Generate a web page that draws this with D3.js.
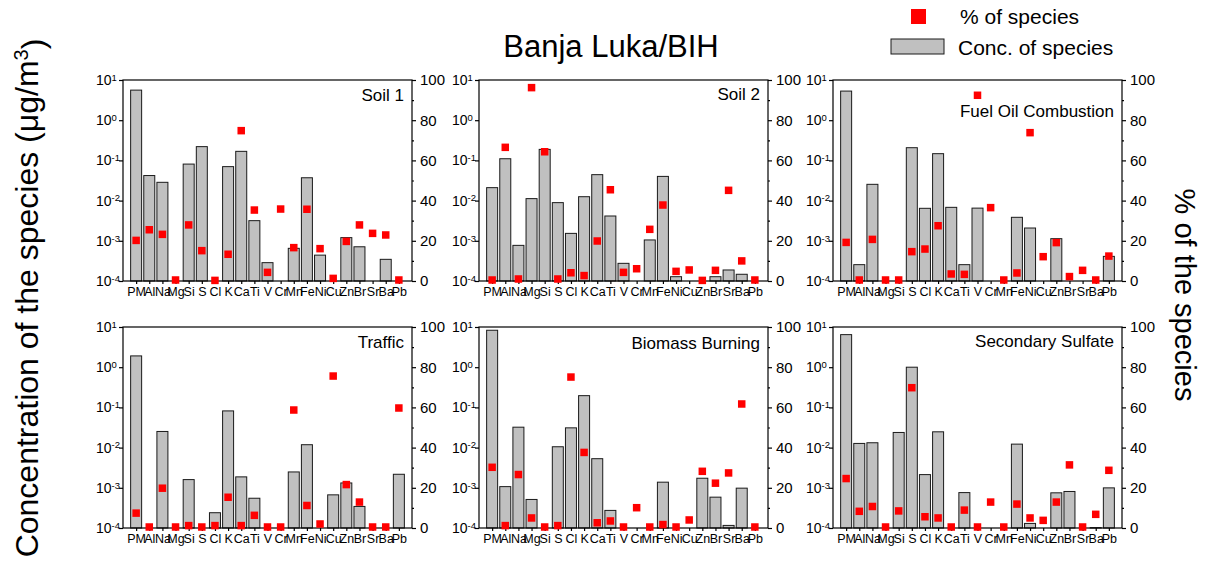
<!DOCTYPE html>
<html>
<head>
<meta charset="utf-8">
<script src="https://cdn.jsdelivr.net/npm/d3@7"></script>
<style>
  body { margin: 0; background: #fff; }
  svg text { font-family: "Liberation Sans", Arial, Helvetica, sans-serif; fill: #000; }
</style>
</head>
<body>
<svg id="chart" width="1207" height="571"></svg>
<script>
// ---- data -------------------------------------------------------------
const species = ["PM","Al","Na","Mg","Si","S","Cl","K","Ca","Ti","V","Cr","Mn","Fe","Ni","Cu","Zn","Br","Sr","Ba","Pb"];
const sources = ["Soil 1","Soil 2","Fuel Oil Combustion","Traffic","Biomass Burning","Secondary Sulfate"];

// concentration of each species in the factor profile (µg/m³); 0 = not drawn
const concSoil1   = [5.6, 0.042, 0.0285, 0, 0.081, 0.22, 0, 0.070, 0.168, 0.00317, 0.000286, 0, 0.00065, 0.037, 0.00044, 0, 0.0012, 0.00071, 0, 0.000346, 0];
const concSoil2   = [0.021, 0.110, 0.00077, 0.0112, 0.188, 0.0089, 0.00153, 0.0125, 0.0442, 0.00414, 0.000275, 0, 0.00105, 0.040, 0.000128, 0, 0, 0.000128, 0.000188, 0.000147, 0];
const concFuelOil = [5.3, 0.000255, 0.0254, 0, 0, 0.207, 0.00643, 0.147, 0.0068, 0.000255, 0.0065, 0, 0, 0.00384, 0.00208, 0, 0.00113, 0, 0, 0, 0.00041];
const concTraffic = [1.91, 0, 0.0252, 0, 0.0016, 0, 0.00024, 0.0818, 0.00187, 0.00055, 0, 0, 0.00248, 0.0118, 0, 0.000668, 0.00132, 0.000344, 0, 0, 0.00217];
const concBiomass = [8.3, 0.00107, 0.0322, 0.000513, 0, 0.0105, 0.031, 0.196, 0.0053, 0.000274, 0, 0, 0, 0.00138, 0, 0, 0.00173, 0.000585, 0.000116, 0.00098, 0];
const concSulfate = [6.46, 0.0127, 0.0132, 0, 0.0238, 1.0, 0.00213, 0.0247, 0, 0.00076, 0, 0, 0, 0.0122, 0.00013, 0, 0.00075, 0.00081, 0, 0.000102, 0.000996];

// share of each species explained by the factor (%)
const pctSoil1   = [20.2, 25.5, 23.2, 0.5, 27.9, 15.1, 0.3, 13.3, 74.8, 35.3, 4.3, 35.8, 16.6, 35.7, 16.1, 1.3, 19.7, 27.9, 23.7, 22.9, 0.5];
const pctSoil2   = [0.5, 66.5, 1.0, 96.2, 64.3, 1.0, 4.1, 2.7, 19.9, 45.4, 4.3, 6.1, 25.7, 37.8, 4.8, 5.5, 0.3, 5.3, 45.1, 10.0, 0.5];
const pctFuelOil = [19.2, 0.5, 20.7, 0.5, 0.5, 14.6, 15.9, 27.5, 3.5, 3.3, 92.4, 36.5, 0.5, 4.0, 73.8, 12.1, 19.1, 2.2, 5.3, 0.5, 12.4];
const pctTraffic = [7.4, 0.5, 19.8, 0.5, 1.2, 0.5, 1.2, 15.3, 1.2, 6.3, 0.5, 0.5, 58.7, 11.2, 2.0, 75.6, 21.6, 12.9, 0.5, 0.5, 59.7];
const pctBiomass = [30.2, 1.2, 26.6, 5.0, 0.5, 1.2, 75.1, 37.6, 2.6, 3.5, 0.5, 10.1, 0.5, 1.7, 0.5, 4.0, 28.2, 22.3, 27.4, 61.7, 0.5];
const pctSulfate = [24.6, 8.3, 10.7, 0.5, 8.5, 69.8, 5.6, 5.0, 0.5, 8.9, 0.5, 12.9, 0.5, 11.9, 5.0, 3.8, 12.9, 31.4, 0.5, 6.8, 28.7];

const concTicks = [1e-4, 1e-3, 1e-2, 1e-1, 1e0, 1e1];
const pctTicks = [0, 20, 40, 60, 80, 100];
const pctMinorTicks = [10, 30, 50, 70, 90];

const concSeries = [concSoil1, concSoil2, concFuelOil, concTraffic, concBiomass, concSulfate];
const pctSeries  = [pctSoil1, pctSoil2, pctFuelOil, pctTraffic, pctBiomass, pctSulfate];

// ---- layout -----------------------------------------------------------
const panelW = 289, panelH = 201;
const colX = [123, 479, 833];
const rowY = [80, 327];
const nameDrop = [21, 20, 37, 21, 22, 20];   // baseline of the factor name below the frame top
const barFill = "#c0c0c0", markColor = "#ff0000";
const markSize = 7.5, barWidth = 11;

const svg = d3.select("#chart");

const x = d3.scalePoint().domain(species).range([0, panelW]).padding(1);
const yConc = d3.scaleLog().domain([1e-4, 1e1]).range([panelH, 0]);
const yPct = d3.scaleLinear().domain([0, 100]).range([panelH, 0]);

sources.forEach((name, i) => {
  const g = svg.append("g")
    .attr("transform", `translate(${colX[i % 3]},${rowY[Math.floor(i / 3)]})`);
  const conc = concSeries[i], pct = pctSeries[i];

  // bars (log scale, only positive values above the axis floor)
  g.append("g").selectAll("rect")
    .data(species.map((s, k) => ({ s, v: conc[k] })).filter(d => d.v > 1e-4))
    .join("rect")
    .attr("x", d => x(d.s) - barWidth / 2)
    .attr("y", d => yConc(d.v))
    .attr("width", barWidth)
    .attr("height", d => panelH - yConc(d.v))
    .attr("fill", barFill)
    .attr("stroke", "#1a1a1a")
    .attr("stroke-width", 1);

  // frame
  g.append("rect")
    .attr("width", panelW).attr("height", panelH)
    .attr("fill", "none").attr("stroke", "#000").attr("stroke-width", 1.2);

  // left log axis
  const left = g.append("g")
    .call(d3.axisLeft(yConc).tickValues(concTicks).tickSize(4).tickFormat(""));
  left.select(".domain").remove();
  left.selectAll("line").attr("stroke-width", 1.2);
  const lbl = g.append("g").selectAll("text").data(concTicks).join("text")
    .attr("x", -27).attr("y", d => yConc(d)).attr("dy", "0.36em")
    .style("font-size", "14px");
  lbl.append("tspan").text("10");
  lbl.append("tspan").attr("dy", "-0.45em").style("font-size", "9.5px")
    .text(d => String(Math.round(Math.log10(d))));

  // right % axis
  const right = g.append("g").attr("transform", `translate(${panelW},0)`)
    .call(d3.axisRight(yPct).tickValues(pctTicks).tickSize(4).tickPadding(4));
  right.select(".domain").remove();
  right.selectAll("line").attr("stroke-width", 1.2);
  right.selectAll("text").style("font-size", "15px");
  g.append("g").attr("transform", `translate(${panelW},0)`)
    .call(d3.axisRight(yPct).tickValues(pctMinorTicks).tickSize(2).tickFormat(""))
    .call(a => { a.select(".domain").remove(); a.selectAll("line").attr("stroke-width", 1.2); });

  // bottom category axis
  const bottom = g.append("g").attr("transform", `translate(0,${panelH})`)
    .call(d3.axisBottom(x).tickSize(3).tickPadding(3));
  bottom.select(".domain").remove();
  bottom.selectAll("line").attr("stroke-width", 1.2);
  bottom.selectAll("text").style("font-size", "12.5px");

  // % markers
  g.append("g").selectAll("rect")
    .data(species.map((s, k) => ({ s, v: pct[k] })))
    .join("rect")
    .attr("x", d => x(d.s) - markSize / 2)
    .attr("y", d => yPct(d.v) - markSize / 2)
    .attr("width", markSize).attr("height", markSize)
    .attr("fill", markColor);

  // factor name
  g.append("text")
    .attr("x", panelW - 8).attr("y", nameDrop[i])
    .attr("text-anchor", "end")
    .style("font-size", "17px")
    .text(name);
});

// title
svg.append("text")
  .attr("x", 611).attr("y", 57)
  .attr("text-anchor", "middle")
  .style("font-size", "31px")
  .text("Banja Luka/BIH");

// left axis title
const yTitle = svg.append("text")
  .attr("transform", "translate(38,298) rotate(-90)")
  .attr("text-anchor", "middle")
  .style("font-size", "32px");
yTitle.append("tspan").text("Concentration of the species (\u03bcg/m");
yTitle.append("tspan").attr("dy", "-0.5em").style("font-size", "20px").text("3");
yTitle.append("tspan").attr("dy", "0.5em").text(")");

// right axis title
svg.append("text")
  .attr("transform", "translate(1175,295) rotate(90)")
  .attr("text-anchor", "middle")
  .style("font-size", "29px")
  .text("% of the species");

// legend
const legend = svg.append("g");
legend.append("rect")
  .attr("x", 911).attr("y", 9).attr("width", 15).attr("height", 15)
  .attr("fill", markColor);
legend.append("text").attr("x", 960).attr("y", 24)
  .style("font-size", "21px").text("% of species");
legend.append("rect")
  .attr("x", 891).attr("y", 39).attr("width", 53).attr("height", 15)
  .attr("fill", barFill).attr("stroke", "#1a1a1a").attr("stroke-width", 1);
legend.append("text").attr("x", 958).attr("y", 55)
  .style("font-size", "21px").text("Conc. of species");
</script>
</body>
</html>
